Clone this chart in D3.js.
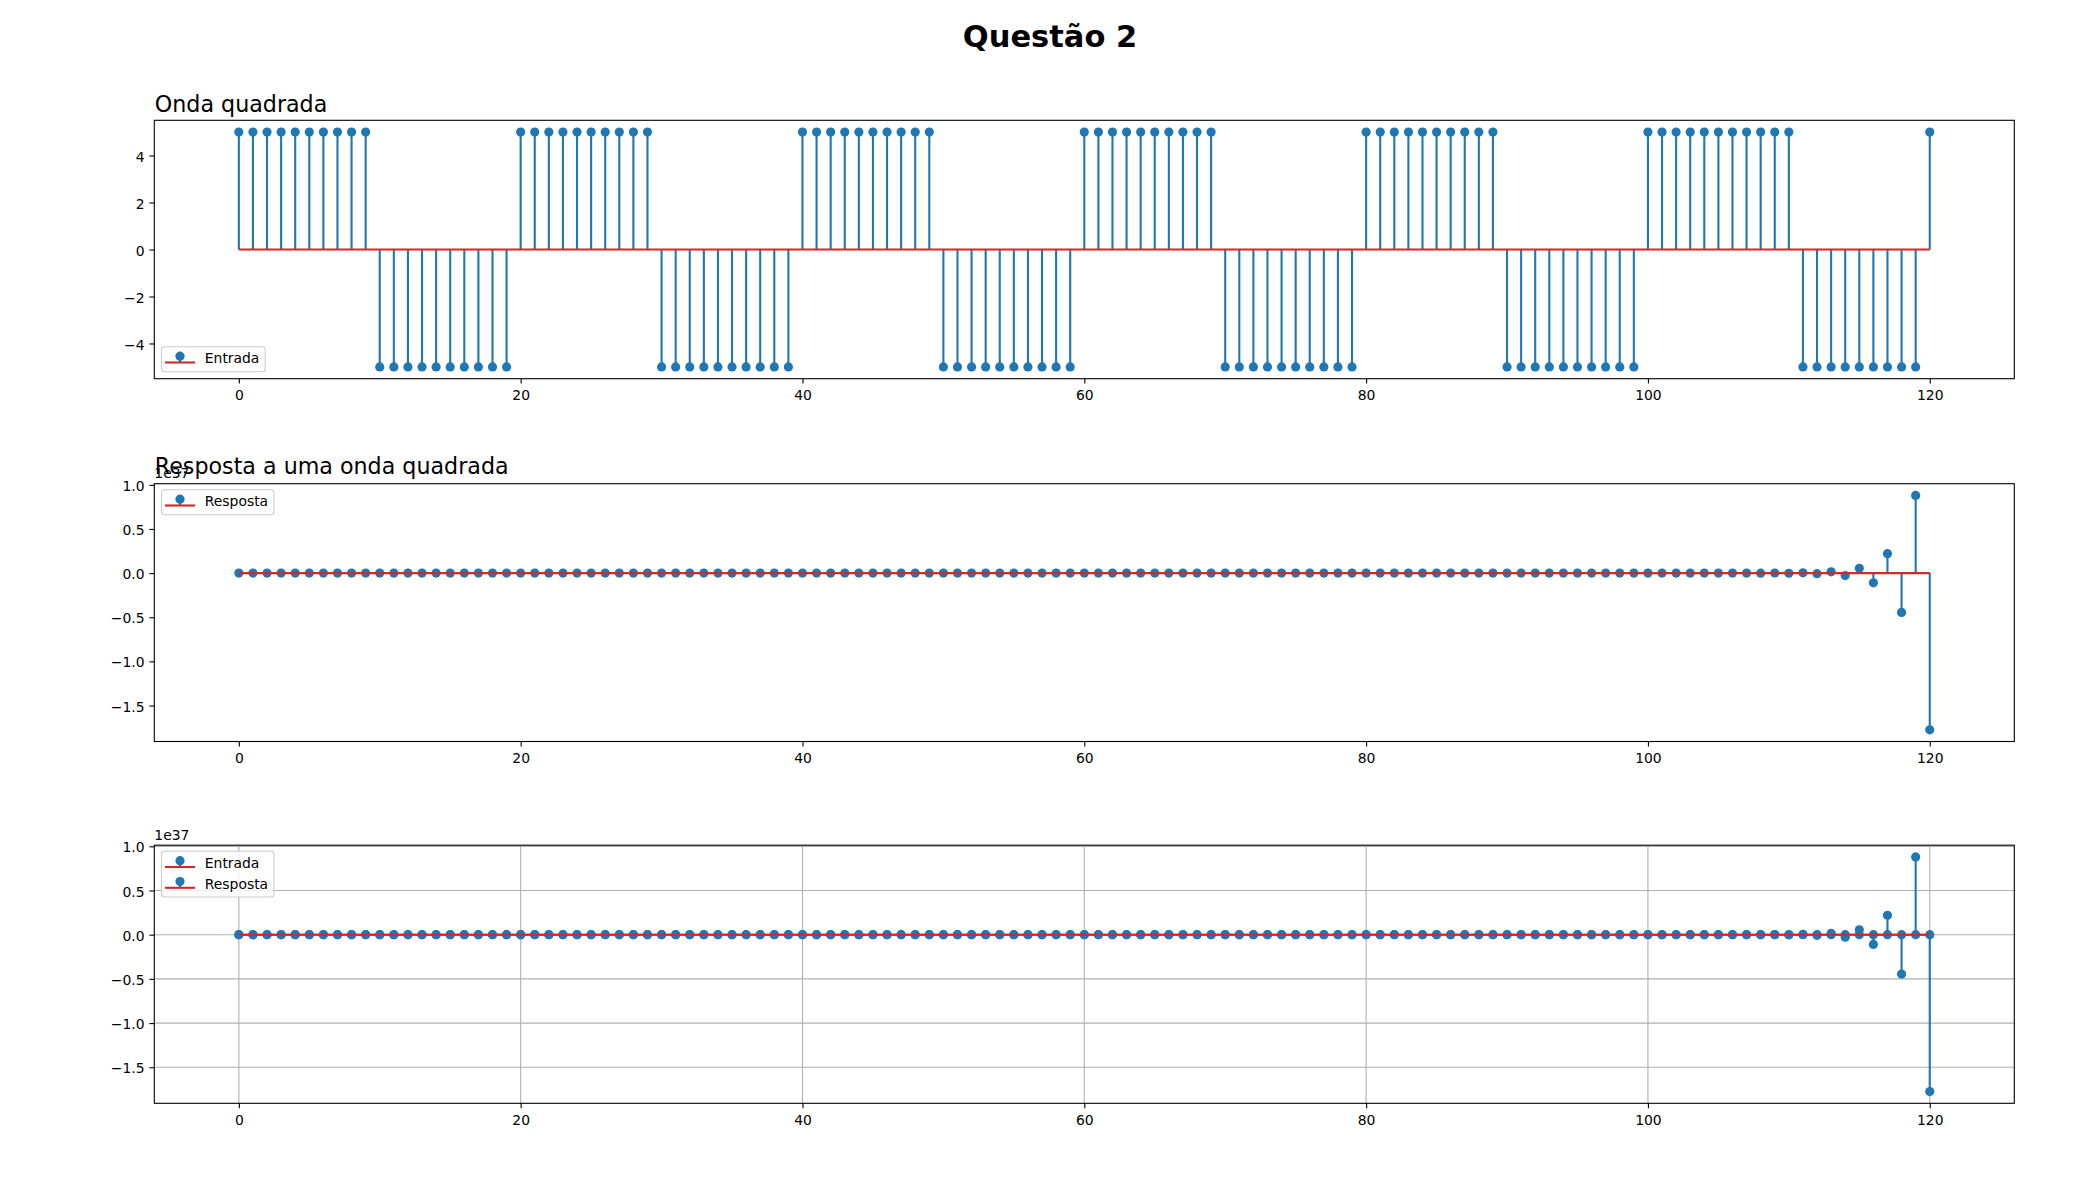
<!DOCTYPE html>
<html>
<head>
<meta charset="utf-8">
<script src="https://cdn.jsdelivr.net/npm/d3@7"></script>
<style>
  html, body { margin: 0; padding: 0; background: #ffffff; }
  svg { display: block; }
  text { font-family: "DejaVu Sans", sans-serif; fill: #000; }
</style>
</head>
<body>
<svg id="chart" width="2100" height="1200"></svg>
<script>
// ---------------- Data ----------------
const amostras = d3.range(0, 121); // n = 0 .. 120

const entrada = [
  5, 5, 5, 5, 5, 5, 5, 5, 5, 5,
  -5, -5, -5, -5, -5, -5, -5, -5, -5, -5,
  5, 5, 5, 5, 5, 5, 5, 5, 5, 5,
  -5, -5, -5, -5, -5, -5, -5, -5, -5, -5,
  5, 5, 5, 5, 5, 5, 5, 5, 5, 5,
  -5, -5, -5, -5, -5, -5, -5, -5, -5, -5,
  5, 5, 5, 5, 5, 5, 5, 5, 5, 5,
  -5, -5, -5, -5, -5, -5, -5, -5, -5, -5,
  5, 5, 5, 5, 5, 5, 5, 5, 5, 5,
  -5, -5, -5, -5, -5, -5, -5, -5, -5, -5,
  5, 5, 5, 5, 5, 5, 5, 5, 5, 5, 5,
  -5, -5, -5, -5, -5, -5, -5, -5, -5,
  5
];

const resposta = [
  0, 0, 0, 0, 0, 0, 0, 0, 0, 0,
  0, 0, 0, 0, 0, 0, 0, 0, 0, 0,
  0, 0, 0, 0, 0, 0, 0, 0, 0, 0,
  0, 0, 0, 0, 0, 0, 0, 0, 0, 0,
  0, 0, 0, 0, 0, 0, 0, 0, 0, 0,
  0, 0, 0, 0, 0, 0, 0, 0, 0, 0,
  0, 0, 0, 0, 0, 0, 0, 0, 0, 0,
  0, 0, 0, 0, 0, 0, 0, 0, 0, 0,
  0, 0, 0, 0, 0, 0, 0, 0, 0, 0,
  0, 0, 0, 0, 0, 0, 0, 0, 0, 0,
  0, 0, 0, 0, 0, 0, 0, 0,
  -0.0004e37, 0.0009e37, -0.0017e37, 0.0035e37, -0.007e37,
  0.014e37, -0.028e37, 0.055e37, -0.11e37, 0.22e37,
  -0.445e37, 0.88e37, -1.775e37
];

const xTicks = [0, 20, 40, 60, 80, 100, 120];
const yTicksEntrada = [-4, -2, 0, 2, 4];
const yTicksResposta = [-1.5e37, -1.0e37, -0.5e37, 0.0, 0.5e37, 1.0e37];
const expoente = "1e37";

const tituloGeral = "Questão 2";
const titulos = ["Onda quadrada", "Resposta a uma onda quadrada", ""];

// ---------------- Layout ----------------
const svg = d3.select("#chart");
const C0 = "#1f77b4", C3 = "#d62728";
const axLeft = 154.3, axRight = 2014.3;
const panels = [
  { top: 120.3, bottom: 378.7 },
  { top: 483.7, bottom: 741.5 },
  { top: 845.2, bottom: 1103.3 }
];
const tickFont = 13.9;

svg.append("text")
  .attr("x", 1050).attr("y", 47.3)
  .attr("text-anchor", "middle")
  .style("font-size", "30.5px").style("font-weight", "bold")
  .text(tituloGeral);

const x = d3.scaleLinear().domain([-6, 126]).range([axLeft, axRight]);

function mplDomain(vals) {
  const [mn, mx] = d3.extent(vals);
  const m = 0.05 * (mx - mn);
  return [mn - m, mx + m];
}

function fmtResp(v) {
  const s = (v / 1e37).toFixed(1);
  return s.replace("-", "\u2212");
}
function fmtInt(v) { return String(v).replace("-", "\u2212"); }

function drawPanel(p, yDomain, yTicks, yFmt, series, opts) {
  const y = d3.scaleLinear().domain(yDomain).range([p.bottom, p.top]);
  const g = svg.append("g");

  // grid
  if (opts.grid) {
    g.append("g").selectAll("line").data(xTicks).join("line")
      .attr("x1", d => x(d)).attr("x2", d => x(d))
      .attr("y1", p.top).attr("y2", p.bottom)
      .attr("stroke", "#b0b0b0").attr("stroke-width", 1.1);
    g.append("g").selectAll("line").data(yTicks).join("line")
      .attr("x1", axLeft).attr("x2", axRight)
      .attr("y1", d => y(d)).attr("y2", d => y(d))
      .attr("stroke", "#b0b0b0").attr("stroke-width", 1.1);
  }

  const clipId = "clip" + Math.round(p.top);
  svg.append("clipPath").attr("id", clipId).append("rect")
    .attr("x", axLeft).attr("y", p.top)
    .attr("width", axRight - axLeft).attr("height", p.bottom - p.top);
  const data = g.append("g").attr("clip-path", `url(#${clipId})`);

  series.forEach(vals => {
    const pts = amostras.map((n, i) => ({ n, v: vals[i] }));
    const sg = data.append("g");
    sg.selectAll("line.stem").data(pts).join("line").attr("class", "stem")
      .attr("x1", d => x(d.n)).attr("x2", d => x(d.n))
      .attr("y1", y(0)).attr("y2", d => y(d.v))
      .attr("stroke", C0).attr("stroke-width", 2.1);
    sg.selectAll("circle").data(pts).join("circle")
      .attr("cx", d => x(d.n)).attr("cy", d => y(d.v))
      .attr("r", 4.6).attr("fill", C0);
    sg.append("line")
      .attr("x1", x(amostras[0])).attr("x2", x(amostras[amostras.length - 1]))
      .attr("y1", y(0)).attr("y2", y(0))
      .attr("stroke", C3).attr("stroke-width", 2.1);
  });

  // spines
  g.append("rect")
    .attr("x", axLeft).attr("y", p.top)
    .attr("width", axRight - axLeft).attr("height", p.bottom - p.top)
    .attr("fill", "none").attr("stroke", "#000").attr("stroke-width", 1.1);

  // x axis
  const xa = g.append("g").attr("transform", `translate(0,${p.bottom})`)
    .call(d3.axisBottom(x).tickValues(xTicks).tickSize(4.9).tickPadding(4.9).tickFormat(d => fmtInt(d)));
  xa.select(".domain").remove();
  xa.selectAll(".tick line").attr("stroke", "#000").attr("stroke-width", 1.1);
  xa.selectAll(".tick text").attr("dy", null).attr("y", 21.6)
    .style("font-size", tickFont + "px").style("font-family", "DejaVu Sans").attr("fill", "#000");

  // y axis
  const ya = g.append("g").attr("transform", `translate(${axLeft},0)`)
    .call(d3.axisLeft(y).tickValues(yTicks).tickSize(4.9).tickPadding(4.9).tickFormat(yFmt));
  ya.select(".domain").remove();
  ya.selectAll(".tick line").attr("stroke", "#000").attr("stroke-width", 1.1);
  ya.selectAll(".tick text").attr("dy", null).attr("y", 5.6)
    .style("font-size", tickFont + "px").style("font-family", "DejaVu Sans").attr("fill", "#000");

  if (opts.offset) {
    g.append("text").attr("x", axLeft).attr("y", p.top - 5.6)
      .style("font-size", tickFont + "px").text(opts.offset);
  }
  if (opts.title) {
    g.append("text").attr("x", axLeft + 0.5).attr("y", opts.titleY)
      .style("font-size", "22.2px").text(opts.title);
  }

  // legend
  const labels = opts.legend;
  const lg = g.append("g");
  const rowH = 20.8;
  const boxH = 25 + (labels.length - 1) * rowH;
  const bx = axLeft + 7.2;
  const by = opts.legendLoc === "lower" ? p.bottom - 7 - boxH : p.top + 6;
  const box = lg.append("rect").attr("x", bx).attr("y", by).attr("height", boxH)
    .attr("rx", 3).attr("ry", 3)
    .attr("fill", "#ffffff").attr("fill-opacity", 0.8)
    .attr("stroke", "#cccccc").attr("stroke-width", 1.1);
  let maxW = 0;
  labels.forEach((lab, i) => {
    const cy = by + 12.5 + i * rowH;
    const hx = bx + 3.5;
    lg.append("line").attr("x1", hx + 15).attr("x2", hx + 15)
      .attr("y1", cy + 3.3).attr("y2", cy - 3).attr("stroke", C0).attr("stroke-width", 2.1);
    lg.append("circle").attr("cx", hx + 15).attr("cy", cy - 3).attr("r", 4.6).attr("fill", C0);
    lg.append("line").attr("x1", hx).attr("x2", hx + 30)
      .attr("y1", cy + 3.3).attr("y2", cy + 3.3).attr("stroke", C3).attr("stroke-width", 2.1);
    const t = lg.append("text").attr("x", bx + 43.3).attr("y", cy + 4.2)
      .style("font-size", tickFont + "px").text(lab);
    maxW = Math.max(maxW, t.node().getComputedTextLength());
  });
  box.attr("width", 43.3 + maxW + 5.8);
}

// Panel 1: entrada
drawPanel(panels[0], mplDomain(entrada), yTicksEntrada, fmtInt, [entrada],
  { grid: false, title: titulos[0], titleY: 112.3, legend: ["Entrada"], legendLoc: "lower" });

// Panel 2: resposta
drawPanel(panels[1], mplDomain(resposta), yTicksResposta, fmtResp, [resposta],
  { grid: false, title: titulos[1], titleY: 473.5, offset: expoente, legend: ["Resposta"], legendLoc: "upper" });

// Panel 3: ambos
drawPanel(panels[2], mplDomain(entrada.concat(resposta)), yTicksResposta, fmtResp, [entrada, resposta],
  { grid: true, title: titulos[2], offset: expoente, legend: ["Entrada", "Resposta"], legendLoc: "upper" });
</script>
</body>
</html>
